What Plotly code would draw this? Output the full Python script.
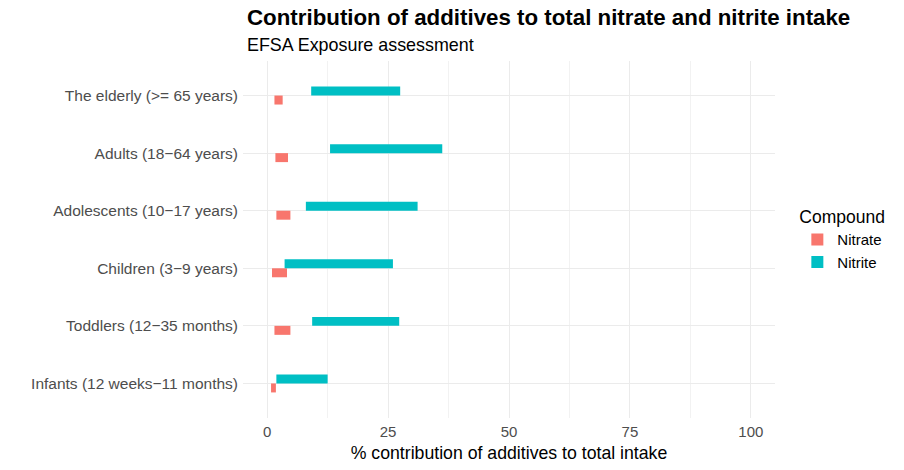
import plotly.graph_objects as go

categories = [
    "Infants (12 weeks\u221211 months)",
    "Toddlers (12\u221235 months)",
    "Children (3\u22129 years)",
    "Adolescents (10\u221217 years)",
    "Adults (18\u221264 years)",
    "The elderly (>= 65 years)",
]
nitrate_low = [0.8, 1.5, 1.0, 1.9, 1.7, 1.5]
nitrate_high = [1.8, 4.8, 4.1, 4.8, 4.3, 3.2]
nitrite_low = [1.9, 9.3, 3.6, 8.0, 13.0, 9.1]
nitrite_high = [12.5, 27.3, 26.0, 31.1, 36.2, 27.5]
x_ticks = [0, 25, 50, 75, 100]

W = 0.156
PH = 357  # panel height in px

fig = go.Figure()
fig.add_trace(go.Bar(
    name="Nitrate", orientation="h", y=categories,
    x=[h - l for l, h in zip(nitrate_low, nitrate_high)], base=nitrate_low,
    width=W, offset=-W, marker=dict(color="#F8766D", line=dict(width=0)),
))
fig.add_trace(go.Bar(
    name="Nitrite", orientation="h", y=categories,
    x=[h - l for l, h in zip(nitrite_low, nitrite_high)], base=nitrite_low,
    width=W, offset=0, marker=dict(color="#00BFC4", line=dict(width=0)),
))

fig.update_layout(
    width=904, height=470,
    barmode="overlay",
    paper_bgcolor="white", plot_bgcolor="white",
    margin=dict(l=243, r=129, t=61, b=52, autoexpand=False),
    font=dict(family="Liberation Sans, Arial, sans-serif", color="#000000"),
    showlegend=True,
    legend=dict(
        title=dict(text="Compound", font=dict(size=17.5, color="#000000")),
        font=dict(size=15, color="#000000"),
        x=1.042, xanchor="left", y=0.5, yanchor="middle",
        traceorder="normal", itemsizing="constant",
        tracegroupgap=0, itemwidth=30,
    ),
    xaxis=dict(
        range=[-5, 105], tickvals=x_ticks, ticktext=[str(t) for t in x_ticks],
        showgrid=True, gridcolor="#EBEBEB", gridwidth=1.1,
        minor=dict(dtick=12.5, tick0=0, showgrid=True, gridcolor="#F2F2F2", gridwidth=0.7),
        zeroline=False, showline=False, ticks="",
        tickfont=dict(size=15, color="#4D4D4D"),
        ticklabelstandoff=3,
        title=dict(text="% contribution of additives to total intake", font=dict(size=17.7, color="#000000"), standoff=7),
    ),
    yaxis=dict(
        type="category", categoryorder="array", categoryarray=categories,
        range=[-0.6, 5.6],
        showgrid=True, gridcolor="#EBEBEB", gridwidth=1.1,
        zeroline=False, showline=False, ticks="",
        tickfont=dict(size=15.5, color="#4D4D4D"),
        ticklabelstandoff=4,
    ),
    annotations=[
        dict(text="<b>Contribution of additives to total nitrate and nitrite intake</b>",
             xref="paper", yref="paper", x=0.003, y=1.0 + 44 / PH, xanchor="left", yanchor="middle",
             showarrow=False, font=dict(size=22.3, color="#000000")),
        dict(text="EFSA Exposure assessment",
             xref="paper", yref="paper", x=0.003, y=1.0 + 16 / PH, xanchor="left", yanchor="middle",
             showarrow=False, font=dict(size=17.9, color="#000000")),
    ],
)

fig.write_html("out.html", config={"displayModeBar": False},
               post_script="document.body.style.margin='0px';")
